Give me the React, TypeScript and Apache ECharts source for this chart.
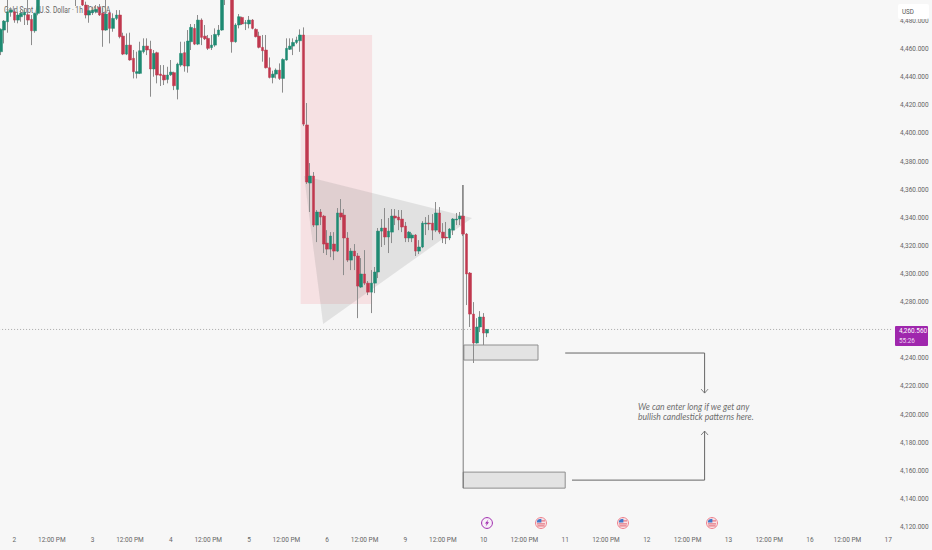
import React, { useEffect, useRef } from "react";
import * as echarts from "echarts";

// [open, close, low, high]
const candlesA = [
  [4458.1,4474,4455.7,4474.7],[4473.5,4479.9,4464,4480.6],[4479.4,4486.5,4471.6,4500],[4486.3,4487.7,4483,4489.6],
  [4486.5,4480.6,4478.7,4489],[4480.6,4484.2,4478.3,4486.5],[4483,4485.4,4479.4,4487.7],[4484.2,4486.1,4477.1,4488.2],
  [4484.4,4480.6,4477.1,4497],[4481.1,4473,4462.8,4484.2],[4473,4485.4,4471.6,4485.8],[4485.4,4503,4484,4510],
  [4503,4512,4500,4515],[4512,4520,4508,4524],[4520,4516,4512,4525],[4516,4522,4510,4526],[4522,4518,4512,4528],
  [4518,4514,4508,4522],[4514,4510,4504,4518],[4510,4514,4506,4518],[4514,4508,4503,4517],[4508,4504,4499,4512],
  [4510,4505,4490.6,4512],[4505,4503,4497,4508],[4503,4491.3,4490.6,4505],[4491.3,4484.2,4481.8,4493.7],
  [4484.2,4487.3,4478.7,4491.3],[4485.8,4487.7,4484.2,4490.1],[4486.5,4488.2,4485.4,4491.3],[4489.6,4484.2,4483.5,4492],
  [4485.4,4473.5,4461.6,4489.6],[4473.5,4484.9,4473,4500],[4485.8,4474.7,4464,4487.7],[4474.7,4481.8,4472.3,4485.4],
  [4481.8,4484.2,4480.6,4487.7],[4484.2,4468.8,4467.6,4487.7],
];
const candlesB = [
  [4469.2,4456.4,4455.7,4471.6],[4456.4,4462.8,4455.7,4471.1],[4462.8,4452.2,4451.7,4471.6],[4453.4,4443.9,4439.1,4459.3],
  [4442.7,4443.9,4439.1,4458.1],[4442.7,4458.8,4442.2,4465.2],[4458.1,4462.1,4456.9,4467.6],[4462.1,4459.3,4455.7,4467.6],
  [4459.8,4445.8,4426.1,4465.9],[4445.8,4456.9,4440.3,4459.3],[4457.4,4441.5,4435.6,4458.1],[4442.2,4441.2,4433.7,4448.6],
  [4441.5,4438,4434.4,4448.6],[4438.4,4441.5,4435.6,4447.4],[4441.7,4443.6,4440.8,4452.2],[4443.2,4433.9,4430.8,4443.9],
  [4431.3,4449.3,4424.2,4450.3],[4448.6,4456.9,4447.4,4465.2],[4457.4,4447.9,4443.9,4465.2],[4447.9,4465.7,4443.2,4473.5],
  [4465.2,4475.4,4459.3,4477.8],[4474.7,4463.5,4462.8,4477.8],[4463.5,4480.6,4462.8,4484.2],[4480.6,4468.3,4462.8,4481.8],
  [4469.2,4467.3,4466.4,4477.1],[4467.6,4460.5,4459.3,4470],[4461,4462.8,4459.3,4470],[4462.8,4470.4,4461.6,4474.7],
  [4470,4473.5,4468.8,4477.1],[4473.5,4496,4473,4510],[4505,4500,4491.3,4510],[4500,4510,4498,4515],
];
const candlesC = [
  [4512,4465.2,4457.4,4520],[4465.2,4477.1,4464.5,4478.3],[4477.1,4483,4474.7,4484.9],[4482.5,4477.8,4477.1,4483],
  [4478.3,4478.7,4473.5,4480.6],[4477.8,4480.6,4474.7,4483.5],[4480.6,4474.7,4474,4481.3],[4474,4468.8,4468.3,4474.7],
  [4469.2,4461.2,4460.5,4472.3],[4461.2,4458.8,4451,4470],[4459.3,4446.7,4446.2,4470],[4446.7,4439.8,4439.1,4454],
  [4439.8,4442.2,4435.6,4444.6],[4442.2,4445,4439.1,4446.2],[4445,4439.1,4438,4449.8],[4439.1,4452.6,4429,4453.4],
  [4452.2,4460.5,4451.7,4467.6],[4459.8,4462.1,4459.3,4467.6],[4462.1,4464.7,4455.7,4467.6],[4464.7,4466.4,4463.5,4468.8],
  [4465.9,4470,4458,4474],
];
const candlesD = [
  [4470,4406.6,4405.2,4475.4],[4406,4365.4,4364,4421.6],[4364.7,4369.7,4344.1,4378.9],[4369.7,4334.8,4333.4,4372.5],
  [4334.8,4344.1,4322.7,4345.5],[4344.1,4340.5,4334.8,4346.2],[4341.2,4321.3,4314.9,4342],[4322,4317.7,4313.5,4331.2],
  [4317.7,4327,4312,4329.8],[4321.3,4316.3,4309.9,4329.8],[4316.3,4343.4,4315.6,4346.9],[4343.4,4340.5,4338.4,4353.3],
  [4341.9,4325.6,4299.2,4346.2],[4325.6,4309.9,4308.5,4329.8],[4309.9,4316.3,4302.8,4318.4],[4316.3,4312.8,4302.8,4321.3],
  [4312.8,4291.4,4268.6,4314.9],[4290.7,4300,4290,4311.3],[4300,4293.5,4292.1,4317],[4293.5,4287.1,4285,4295],
  [4287.1,4293.5,4272.2,4302.8],[4293.5,4301.4,4286.4,4305],
];
const candlesE = [
  [4301.4,4330.5,4297.1,4332.7],[4330.5,4332.7,4319.2,4339.1],[4332.7,4326.3,4320.6,4346.9],[4326.3,4330.5,4314.9,4339.8],
  [4329.8,4341.2,4322,4346.2],[4341.2,4339.8,4334.8,4346.2],[4340.5,4338.4,4331.2,4345.5],[4339.1,4333.4,4329.8,4345.5],
  [4334.1,4325.6,4322.7,4337],[4325.6,4329.8,4322.7,4330.5],[4325.6,4327.7,4322.7,4329],[4327.7,4316.3,4312.8,4328.4],
  [4316.3,4319.2,4314.2,4324.1],[4319.2,4336.2,4318.4,4337.6],[4335.6,4336.2,4327.7,4340.5],[4336.2,4335.6,4331.2,4342],
  [4336.2,4331.2,4324.1,4342.6],[4331.2,4343.4,4329.8,4351.2],[4343.4,4329.8,4328.4,4347.6],[4329.8,4325.6,4322,4336.2],
  [4326.3,4325.6,4321.3,4337],[4325.6,4332,4324.1,4332.7],[4331.2,4339.1,4327.7,4339.8],[4338.4,4339.1,4334.8,4343.4],
  [4339.1,4341.2,4334.8,4344.1],
];
const candlesF = [
  [4341.2,4328.4,4327,4363.3],[4328.4,4300,4277.9,4329.1],[4300.7,4271.5,4262.3,4301.4],[4271.5,4250.9,4236.7,4280],
  [4250.9,4262.3,4250.5,4268.6],[4262.3,4269.4,4258.7,4273.6],[4269.4,4258,4249.5,4272.2],[4258,4260.56,4255.1,4260.8],
];

const slotCount = 264;
const timeTickSlots = [4, 15, 27, 38, 50, 61, 73, 84, 96, 107, 119, 130, 142, 154, 166, 178, 190, 202, 214, 226, 238, 249, 261];
const timeTickLabels = ["2", "12:00 PM", "3", "12:00 PM", "4", "12:00 PM", "5", "12:00 PM", "6", "12:00 PM", "9", "12:00 PM", "10", "12:00 PM", "11", "12:00 PM", "12", "12:00 PM", "13", "12:00 PM", "16", "12:00 PM", "17"];
const hiddenPriceTicks = [4100, 4260, 4500];

const lastPrice = 4260.56;
const countdown = "55:26";
const title = "Gold Spot / U.S. Dollar · 1h · OANDA";
const note = ["We can enter long if we get any", "bullish candlestick patterns here."];

// annotations, in [slot, price]
const zone = [[88.2, 4470, 109.2, 4278.6]];
const triangle = [[[89.2, 4369.7], [94.8, 4264.4], [138.6, 4339.8]]];
const boxes = [[136.2, 4249.5, 158, 4238.8], [136, 4159.1, 166, 4147.7]];
const verticalLine = [[136, 4363.3, 136, 4147.7]];
const arrowPaths = [
  [[166, 4243.8], [207, 4243.8], [207, 4215.3]],
  [[168, 4153.4], [207, 4153.4], [207, 4188.3]],
];

const GREEN = "#1f8a72";
const RED = "#c0384e";
const WICK = "#8c8c8c";
const BG = "#f7f7f7";
const LABEL = "#666666";
const FONT = "Roboto";
const PURPLE = "#9f27ad";

const flag = (cx: number, cy: number) => ({
  type: "group",
  x: cx,
  y: cy,
  z: 5,
  children: [
    { type: "circle", shape: { cx: 0, cy: 0, r: 5.5 }, style: { fill: "#fbe3e5", stroke: "#ef8490", lineWidth: 1 } },
    { type: "rect", shape: { x: -4, y: 0.4, width: 8, height: 1 }, style: { fill: "#e0606f" } },
    { type: "rect", shape: { x: -3.6, y: 2.4, width: 7.2, height: 1 }, style: { fill: "#e0606f" } },
    { type: "rect", shape: { x: 0, y: -2.6, width: 4, height: 1 }, style: { fill: "#e0606f" } },
    { type: "polygon", shape: { points: [[-4.2, -0.4], [-4, -2.2], [-2.4, -3.8], [0.4, -4.2], [0.4, -0.4]] }, style: { fill: "#3f78c9" } },
  ],
});

const option = () => {
  const all = [...candlesA, ...candlesB, ...candlesC, ...candlesD, ...candlesE, ...candlesF];
  const categories = Array.from({ length: slotCount }, () => "");
  timeTickSlots.forEach((s, i) => (categories[s] = timeTickLabels[i]));
  const textStyle = { fontFamily: FONT, color: LABEL, fontSize: 6.5 };
  const priceText = (v: number) => v.toLocaleString("en-US", { minimumFractionDigits: 3, maximumFractionDigits: 3 });
  return {
    animation: false,
    backgroundColor: BG,
    grid: { left: -0.9, top: -7.2, width: slotCount * 3.4, height: 562.4, outerBoundsMode: "none", containLabel: false },
    xAxis: [
      {
        type: "category",
        data: categories,
        boundaryGap: true,
        axisLine: { show: false },
        axisTick: { show: false },
        splitLine: { show: false },
        axisLabel: {
          ...textStyle,
          inside: true,
          margin: 12,
          hideOverlap: false,
          interval: (_: number, v: string) => v !== "",
        },
      },
      { type: "value", min: -0.5, max: slotCount - 0.5, show: false, position: "top", splitLine: { show: false } },
    ],
    yAxis: {
      type: "value",
      position: "right",
      min: 4100,
      max: 4500,
      interval: 20,
      splitLine: { show: false },
      axisLine: { show: false },
      axisTick: { show: false },
      axisLabel: {
        ...textStyle,
        margin: 3.4,
        formatter: (v: number) => (hiddenPriceTicks.includes(v) ? "" : priceText(v)),
      },
    },
    series: [
      {
        type: "custom", xAxisIndex: 1, z: 1, silent: true, clip: false, data: zone,
        renderItem: (_: any, api: any) => {
          const a = api.coord([api.value(0), api.value(1)]);
          const b = api.coord([api.value(2), api.value(3)]);
          return { type: "rect", shape: { x: a[0], y: a[1], width: b[0] - a[0], height: b[1] - a[1] }, style: { fill: "rgba(242,54,69,0.11)" } };
        },
      },
      {
        type: "custom", xAxisIndex: 1, z: 1, silent: true, clip: false, data: triangle.map((t, i) => [i]),
        renderItem: (p: any, api: any) => ({
          type: "polygon",
          shape: { points: triangle[p.dataIndex].map((q) => api.coord(q)) },
          style: { fill: "rgba(120,120,120,0.17)" },
        }),
      },
      {
        type: "custom", xAxisIndex: 1, z: 1, silent: true, clip: false, data: boxes,
        renderItem: (_: any, api: any) => {
          const a = api.coord([api.value(0), api.value(1)]);
          const b = api.coord([api.value(2), api.value(3)]);
          return { type: "rect", shape: { x: a[0], y: a[1], width: b[0] - a[0], height: b[1] - a[1] }, style: { fill: "rgba(128,128,128,0.17)", stroke: "#8f8f8f", lineWidth: 1 } };
        },
      },
      {
        type: "custom", xAxisIndex: 1, z: 1, silent: true, clip: false, data: verticalLine,
        renderItem: (_: any, api: any) => {
          const a = api.coord([api.value(0), api.value(1)]);
          const b = api.coord([api.value(2), api.value(3)]);
          return { type: "line", shape: { x1: a[0], y1: a[1], x2: b[0], y2: b[1] }, style: { stroke: "#6e6e6e", lineWidth: 0.9 } };
        },
      },
      {
        type: "custom", xAxisIndex: 1, z: 1, silent: true, clip: false, data: [[-0.5, lastPrice, slotCount - 2, lastPrice]],
        renderItem: (_: any, api: any) => {
          const a = api.coord([api.value(0), api.value(1)]);
          const b = api.coord([api.value(2), api.value(3)]);
          return { type: "line", shape: { x1: a[0], y1: a[1], x2: b[0], y2: b[1] }, style: { stroke: "#a8a8a8", lineWidth: 1, lineDash: [1, 2] } };
        },
      },
      {
        type: "custom", xAxisIndex: 1, z: 1, silent: true, clip: false, data: arrowPaths.map((t, i) => [i]),
        renderItem: (p: any, api: any) => {
          const pts = arrowPaths[p.dataIndex].map((q) => api.coord(q));
          const tip = pts[pts.length - 1];
          const dir = pts[pts.length - 2][1] < tip[1] ? -1 : 1;
          return {
            type: "group",
            children: [
              { type: "polyline", shape: { points: pts }, style: { stroke: "#666666", lineWidth: 1, fill: "none" } },
              {
                type: "polyline",
                shape: { points: [[tip[0] - 3.5, tip[1] + dir * 4], tip, [tip[0] + 3.5, tip[1] + dir * 4]] },
                style: { stroke: "#666666", lineWidth: 0.8, fill: "none" },
              },
            ],
          };
        },
      },
      {
        type: "candlestick", xAxisIndex: 0, z: 3, barWidth: 1, silent: true, data: all,
        itemStyle: { color: WICK, color0: WICK, borderColor: WICK, borderColor0: WICK, borderColorDoji: WICK, borderWidth: 1 },
      },
      {
        type: "candlestick", xAxisIndex: 0, z: 4, barWidth: 3, silent: true,
        data: all.map(([o, c]) => [o, c, Math.min(o, c), Math.max(o, c)]),
        itemStyle: { color: GREEN, color0: RED, borderColor: GREEN, borderColor0: RED, borderColorDoji: WICK, borderWidth: 0.5 },
      },
    ],
    graphic: [
      { type: "text", x: 4, y: 6, z: 0, scaleX: 0.8, style: { text: title, fontFamily: FONT, fontSize: 8.4, fill: "#666666" } },
      { type: "text", x: 638, y: 402.5, z: 5, style: { text: note[0], fontFamily: "Lato", fontStyle: "italic", fontSize: 8.6, fill: "#6e6e6e" } },
      { type: "text", x: 638, y: 412.3, z: 5, style: { text: note[1], fontFamily: "Lato", fontStyle: "italic", fontSize: 8.6, fill: "#6e6e6e" } },
      { type: "rect", z: 20, shape: { x: 898, y: 4, width: 31, height: 15, r: 2 }, style: { fill: "#ffffff" } },
      { type: "text", x: 902, y: 8, z: 21, scaleX: 0.85, style: { text: "USD", fontFamily: FONT, fontSize: 7.4, fill: "#555555" } },
      { type: "rect", z: 20, shape: { x: 895, y: 326, width: 33, height: 20, r: 1 }, style: { fill: PURPLE } },
      { type: "text", x: 899, y: 326.5, z: 21, scaleX: 0.82, style: { text: priceText(lastPrice), fontFamily: FONT, fontSize: 7.8, fill: "#ffffff" } },
      { type: "text", x: 899, y: 336, z: 21, scaleX: 0.82, style: { text: countdown, fontFamily: FONT, fontSize: 7.8, fill: "#ecd6f0" } },
      {
        type: "group", x: 487, y: 523, z: 5,
        children: [
          { type: "circle", shape: { cx: 0, cy: 0, r: 5.4 }, style: { fill: "#f7f0f8", stroke: PURPLE, lineWidth: 1 } },
          { type: "polygon", shape: { points: [[1.4, -3.6], [-2, 0.6], [-0.2, 0.6], [-1.4, 3.6], [2, -0.8], [0.2, -0.8]] }, style: { fill: PURPLE } },
        ],
      },
      flag(541, 523),
      flag(623, 523),
      flag(712, 523),
    ],
  };
};

export default function App() {
  const ref = useRef<HTMLDivElement>(null);
  useEffect(() => {
    document.body.style.margin = "0";
    document.body.style.background = BG;
    const chart = echarts.init(ref.current!, undefined, { renderer: "svg" });
    chart.setOption(option() as any);
    return () => chart.dispose();
  }, []);
  return <div ref={ref} style={{ width: 932, height: 550 }} />;
}
